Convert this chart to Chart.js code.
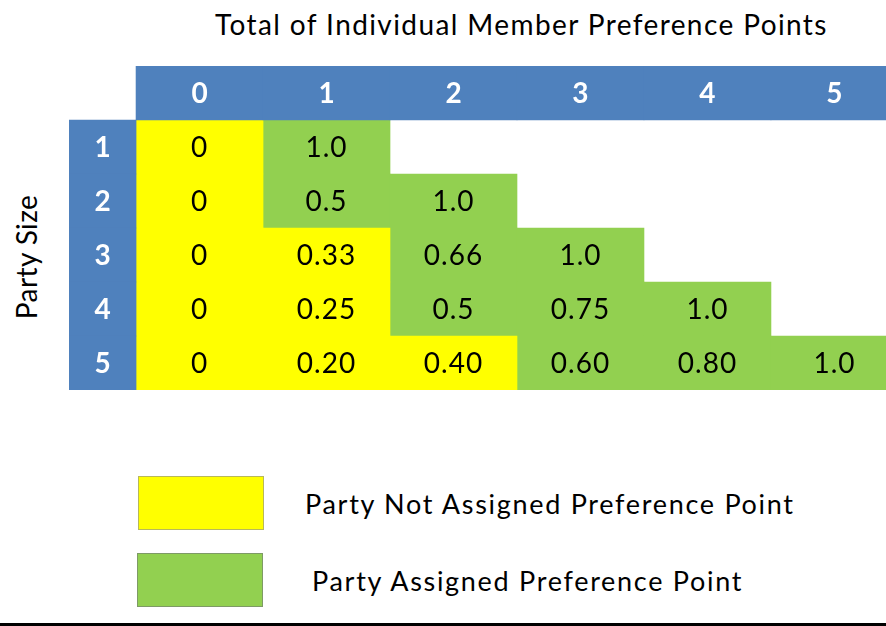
<!DOCTYPE html>
<html>
<head>
<meta charset="utf-8">
<script src="https://cdn.jsdelivr.net/npm/chart.js@4.4.1/dist/chart.umd.min.js"></script>
<style>
    html, body { margin: 0; padding: 0; background: #fff; }
    body { width: 886px; height: 626px; position: relative; overflow: hidden; font-family: 'Lato', sans-serif; color: #000; }
    .txt { position: absolute; white-space: nowrap; line-height: 1; }
    #chartBox { position: absolute; left: 69px; top: 66px; width: 817px; height: 324px; }
    .swatch { position: absolute; width: 126px; height: 54px; box-sizing: border-box; }
    #bottomRule { position: absolute; left: 0; top: 623px; width: 886px; height: 3px; background: #000; }
</style>
</head>
<body>
<div class="txt" id="title" style="left:215px; top:10px; font-size:28px; letter-spacing:1.4px;">Total of Individual Member Preference Points</div>
<div class="txt" id="yTitle" style="left:26px; top:257px; font-size:28px; letter-spacing:0.4px; transform: translate(-50%, -50%) rotate(-90deg);">Party Size</div>

<div id="chartBox"><canvas id="grid"></canvas></div>

<div class="swatch" style="left:138px; top:476px; background:#FFFF00; border:1px solid #B8B85A;"></div>
<div class="txt" style="left:305px; top:490px; font-size:27px; letter-spacing:1.7px;">Party Not Assigned Preference Point</div>
<div class="swatch" style="left:137px; top:553px; background:#92D050; border:1px solid #7E9A66;"></div>
<div class="txt" style="left:312px; top:567px; font-size:27px; letter-spacing:1.7px;">Party Assigned Preference Point</div>
<div id="bottomRule"></div>

<script>
    // column headers: total of individual member preference points
    const columnLabels = ["0", "1", "2", "3", "4", "5"];
    // row headers: party size
    const partySizes = ["1", "2", "3", "4", "5"];
    // cell text per row (row i has i+2 cells)
    const cellValues = [
        ["0", "1.0"],
        ["0", "0.5", "1.0"],
        ["0", "0.33", "0.66", "1.0"],
        ["0", "0.25", "0.5", "0.75", "1.0"],
        ["0", "0.20", "0.40", "0.60", "0.80", "1.0"],
    ];
    // 1 = party assigned preference point (green), 0 = not assigned (yellow)
    const assigned = [
        [0, 1],
        [0, 1, 1],
        [0, 0, 1, 1],
        [0, 0, 1, 1, 1],
        [0, 0, 0, 1, 1, 1],
    ];

    const HEADER_ROW = "cols";
    const ROW_HEAD_W = 0.528;

    const BLUE = "#4F81BD";
    const YELLOW = "#FFFF00";
    const GREEN = "#92D050";

    const headerCells = columnLabels.map((c, i) => ({ y: HEADER_ROW, x: [i, i + 1], text: c }))
        .concat(partySizes.map((p) => ({ y: p, x: [-ROW_HEAD_W, 0], text: p })));

    const yellowCells = [];
    const greenCells = [];
    cellValues.forEach((row, r) => {
        row.forEach((val, c) => {
            const cell = { y: partySizes[r], x: [c, c + 1], text: val };
            if (assigned[r][c]) greenCells.push(cell);
            else yellowCells.push(cell);
        });
    });

    const cellLabels = {
        id: "cellLabels",
        afterDatasetsDraw(chart) {
            const ctx = chart.ctx;
            chart.data.datasets.forEach((ds, i) => {
                const meta = chart.getDatasetMeta(i);
                meta.data.forEach((bar, j) => {
                    const pt = bar.getCenterPoint();
                    ctx.save();
                    ctx.font = ds.labelFont;
                    ctx.fillStyle = ds.labelColor;
                    ctx.letterSpacing = ds.labelSpacing;
                    ctx.textAlign = "center";
                    ctx.textBaseline = "middle";
                    ctx.fillText(ds.data[j].text, pt.x, pt.y + 1);
                    ctx.restore();
                });
            });
        }
    };

    new Chart(document.getElementById("grid"), {
        type: "bar",
        data: {
            labels: [HEADER_ROW].concat(partySizes),
            datasets: [
                { data: headerCells, backgroundColor: BLUE, labelFont: "bold 28px Lato", labelColor: "#fff", labelSpacing: "0px" },
                { data: yellowCells, backgroundColor: YELLOW, labelFont: "28px Lato", labelColor: "#000", labelSpacing: "1px" },
                { data: greenCells, backgroundColor: GREEN, labelFont: "28px Lato", labelColor: "#000", labelSpacing: "1px" },
            ],
        },
        options: {
            indexAxis: "y",
            responsive: true,
            maintainAspectRatio: false,
            animation: false,
            events: [],
            layout: { padding: 0 },
            datasets: {
                bar: { grouped: false, barPercentage: 1, categoryPercentage: 1, borderWidth: 0 },
            },
            plugins: {
                legend: { display: false },
                tooltip: { enabled: false },
            },
            scales: {
                x: { type: "linear", min: -ROW_HEAD_W, max: 5.906, display: false },
                y: { type: "category", offset: true, display: false },
            },
        },
        plugins: [cellLabels],
    });
</script>
</body>
</html>
